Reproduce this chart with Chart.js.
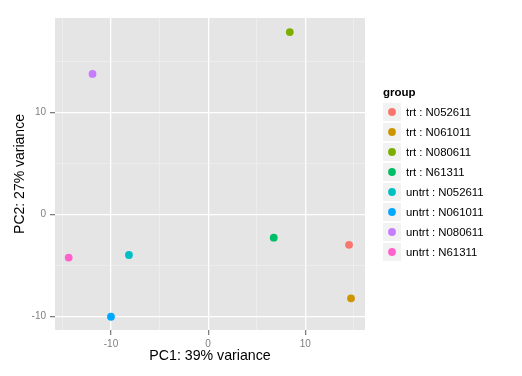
<!DOCTYPE html>
<html>
<head>
<meta charset="utf-8">
<script src="https://cdn.jsdelivr.net/npm/chart.js@4"></script>
<style>
  html, body { margin: 0; padding: 0; background: #fff; }
  #wrap { width: 522px; height: 376px; }
</style>
</head>
<body>
<div id="wrap"><canvas id="pca" width="522" height="376"></canvas></div>
<script>
const groups = ['trt : N052611', 'trt : N061011', 'trt : N080611', 'trt : N61311',
                'untrt : N052611', 'untrt : N061011', 'untrt : N080611', 'untrt : N61311'];
const pc1 = [14.5, 14.7, 8.4, 6.75, -8.15, -10.0, -11.9, -14.35];
const pc2 = [-2.95, -8.2, 17.9, -2.25, -3.95, -10.0, 13.8, -4.2];
const colors = ['#F8766D', '#CD9600', '#7CAE00', '#00BE67', '#00BFC4', '#00A9FF', '#C77CFF', '#FF61CC'];
const xTicks = [-15, -10, -5, 0, 5, 10, 15];
const yTicks = [-10, -5, 0, 5, 10, 15];
const majorLabels = [-10, 0, 10];

const FONT = '"Liberation Sans", Arial, Helvetica, sans-serif';

// panel background like ggplot
const panelBg = {
    id: 'panelBg',
    beforeDraw(chart) {
        const { ctx, chartArea: { left, top, width, height } } = chart;
        ctx.save();
        ctx.fillStyle = '#E5E5E5';
        ctx.fillRect(left, top, width, height);
        ctx.restore();
    },
};

// ggplot-style legend with grey keys
const ggLegend = {
    id: 'ggLegend',
    afterDraw(chart) {
        const { ctx } = chart;
        const x0 = 383, y0 = 103, row = 20;
        ctx.save();
        ctx.fillStyle = '#000';
        ctx.font = 'bold 11.5px ' + FONT;
        ctx.textBaseline = 'middle';
        ctx.textAlign = 'left';
        ctx.fillText('group', x0, 93);
        groups.forEach((g, i) => {
            const y = y0 + i * row;
            ctx.fillStyle = '#F2F2F2';
            ctx.fillRect(x0, y, 18, 18);
            ctx.beginPath();
            ctx.arc(x0 + 9, y + 9, 3.9, 0, Math.PI * 2);
            ctx.fillStyle = colors[i];
            ctx.fill();
            ctx.fillStyle = '#000';
            ctx.font = '11.4px ' + FONT;
            ctx.fillText(g, x0 + 23, y + 9.5);
        });
        ctx.restore();
    },
};

const datasets = groups.map((g, i) => ({
    label: g,
    data: [{ x: pc1[i], y: pc2[i] }],
    backgroundColor: colors[i],
    borderColor: colors[i],
    borderWidth: 0,
    pointRadius: 3.9,
}));

const gridColor = ctx => (majorLabels.includes(ctx.tick && ctx.tick.value) ? '#FFFFFF' : '#F2F2F2');
const gridWidth = ctx => (majorLabels.includes(ctx.tick && ctx.tick.value) ? 1.3 : 0.6);
const tickColor = ctx => (majorLabels.includes(ctx.tick && ctx.tick.value) ? '#7F7F7F' : 'rgba(0,0,0,0)');

new Chart(document.getElementById('pca'), {
    type: 'scatter',
    data: { datasets },
    plugins: [panelBg, ggLegend],
    options: {
        responsive: false,
        animation: false,
        layout: { padding: { left: 0, top: 18, right: 157, bottom: 0 } },
        plugins: { legend: { display: false }, tooltip: { enabled: false } },
        scales: {
            x: {
                type: 'linear',
                min: -15.76,
                max: 16.14,
                afterBuildTicks: s => { s.ticks = xTicks.map(v => ({ value: v })); },
                afterFit: s => { s.height = 46; },
                border: { display: false },
                grid: { color: gridColor, lineWidth: gridWidth, tickColor, tickLength: 5, drawOnChartArea: true },
                ticks: {
                    color: '#7F7F7F',
                    font: { family: FONT, size: 10 },
                    padding: 3,
                    maxRotation: 0,
                    autoSkip: false,
                    callback: v => (majorLabels.includes(v) ? String(v) : ''),
                },
                title: {
                    display: true,
                    text: 'PC1: 39% variance',
                    color: '#000',
                    font: { family: FONT, size: 14.2 },
                    padding: { top: 0, bottom: 11 },
                },
            },
            y: {
                type: 'linear',
                min: -11.3,
                max: 19.28,
                afterBuildTicks: s => { s.ticks = yTicks.map(v => ({ value: v })); },
                afterFit: s => { s.width = 55; },
                border: { display: false },
                grid: { color: gridColor, lineWidth: gridWidth, tickColor, tickLength: 5 },
                ticks: {
                    color: '#7F7F7F',
                    font: { family: FONT, size: 10 },
                    padding: 4,
                    autoSkip: false,
                    callback: v => (majorLabels.includes(v) ? String(v) : ''),
                },
                title: {
                    display: true,
                    text: 'PC2: 27% variance',
                    color: '#000',
                    font: { family: FONT, size: 14 },
                    padding: { top: 12, bottom: 0 },
                },
            },
        },
    },
});
</script>
</body>
</html>
